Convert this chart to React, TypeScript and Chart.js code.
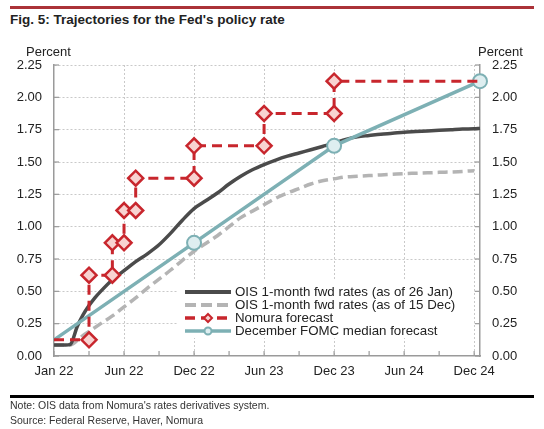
import React, { useEffect, useRef } from "react";
import { Chart, registerables } from "chart.js";

Chart.register(...registerables);

// ---- Axis ticks ----
const majorTickPositions = [0, 6, 12, 18, 24, 30, 36];
const majorTickLabels = ["Jan 22", "Jun 22", "Dec 22", "Jun 23", "Dec 23", "Jun 24", "Dec 24"];
const minorTickPositions = [3, 9, 15, 21, 27, 33];
const yTickValues = [0, 0.25, 0.5, 0.75, 1, 1.25, 1.5, 1.75, 2, 2.25];

// ---- Series (x in months since Jan 22) ----
const oisJanX = [0, 0.5, 1, 1.4, 2, 2.5, 3, 3.5, 4, 5, 6, 7, 8, 9, 10, 11, 12, 13, 14, 15, 16, 17, 18, 19, 20, 21, 22, 23, 24, 25, 26, 27, 28, 29, 30, 31, 32, 33, 34, 35, 36, 36.5];
const oisJanY = [0.085, 0.085, 0.085, 0.09, 0.23, 0.32, 0.39, 0.45, 0.5, 0.59, 0.66, 0.73, 0.79, 0.86, 0.95, 1.05, 1.14, 1.2, 1.26, 1.33, 1.39, 1.44, 1.48, 1.515, 1.545, 1.57, 1.595, 1.62, 1.645, 1.675, 1.695, 1.705, 1.715, 1.722, 1.73, 1.735, 1.74, 1.745, 1.75, 1.755, 1.757, 1.76];

const oisDecX = [0, 1, 1.4, 2, 2.5, 3, 4, 5, 6, 7, 8, 9, 10, 11, 12, 13, 14, 15, 16, 17, 18, 19, 20, 21, 22, 23, 24, 25, 26, 27, 28, 29, 30, 31, 32, 33, 34, 35, 36];
const oisDecY = [0.085, 0.085, 0.085, 0.12, 0.16, 0.19, 0.25, 0.31, 0.38, 0.45, 0.525, 0.595, 0.665, 0.74, 0.81, 0.87, 0.93, 1.0, 1.07, 1.12, 1.17, 1.22, 1.26, 1.295, 1.33, 1.355, 1.37, 1.385, 1.39, 1.395, 1.4, 1.405, 1.41, 1.413, 1.416, 1.42, 1.423, 1.427, 1.433];

const nomuraX = [0, 3, 3, 5, 5, 6, 6, 7, 7, 12, 12, 18, 18, 24, 24, 36.5];
const nomuraY = [0.125, 0.125, 0.625, 0.625, 0.875, 0.875, 1.125, 1.125, 1.375, 1.375, 1.625, 1.625, 1.875, 1.875, 2.125, 2.125];

const fomcX = [0, 12, 24, 36.5];
const fomcY = [0.125, 0.875, 1.625, 2.125];

const legendLabels = [
  "OIS 1-month fwd rates (as of 26 Jan)",
  "OIS 1-month fwd rates (as of 15 Dec)",
  "Nomura forecast",
  "December FOMC median forecast",
];

const FONT = '"Liberation Sans", Arial, Helvetica, sans-serif';
const DARK = "#4b4b4b";
const GRAY = "#b4b4b4";
const RED = "#c8262d";
const RED_FILL = "#f8d3d1";
const TEAL = "#7db0b4";
const TEAL_FILL = "#deeef0";
const AXIS = "#9a9a9a";
const GRID = "#c9c9c9";

const toPts = (xs: number[], ys: number[]) => xs.map((x, i) => ({ x, y: ys[i] }));

const innerTicksPlugin = {
  id: "innerTicks",
  beforeDatasetsDraw(chart: any) {
    const { ctx, chartArea: a, scales } = chart;
    ctx.save();
    ctx.strokeStyle = AXIS;
    ctx.lineWidth = 1.2;
    ctx.setLineDash([]);
    const seg = (x1: number, y1: number, x2: number, y2: number) => {
      ctx.beginPath();
      ctx.moveTo(x1, y1);
      ctx.lineTo(x2, y2);
      ctx.stroke();
    };
    yTickValues.forEach((v) => {
      const y = scales.y.getPixelForValue(v);
      seg(a.left, y, a.left + 5, y);
      seg(a.right - 5, y, a.right, y);
    });
    [...majorTickPositions, ...minorTickPositions].forEach((v) => {
      const x = scales.x.getPixelForValue(v);
      seg(x, a.bottom, x, a.bottom - 5);
    });
    ctx.restore();
  },
};

const legendPlugin = {
  id: "customLegend",
  beforeDatasetsDraw(chart: any) {
    const { ctx } = chart;
    ctx.save();
    ctx.fillStyle = "#ffffff";
    ctx.fillRect(178, 280, 296, 58);
    const x1 = 185;
    const x2 = 231;
    const rows = [292, 305, 318, 331];
    ctx.lineCap = "butt";
    // dark
    ctx.strokeStyle = DARK;
    ctx.lineWidth = 4;
    ctx.setLineDash([]);
    ctx.beginPath();
    ctx.moveTo(x1, rows[0]);
    ctx.lineTo(x2, rows[0]);
    ctx.stroke();
    // gray dashed
    ctx.strokeStyle = GRAY;
    ctx.setLineDash([11, 5]);
    ctx.beginPath();
    ctx.moveTo(x1, rows[1]);
    ctx.lineTo(x2 + 2, rows[1]);
    ctx.stroke();
    // red dashed + diamond
    ctx.strokeStyle = RED;
    ctx.lineWidth = 3.5;
    ctx.setLineDash([10, 6]);
    ctx.beginPath();
    ctx.moveTo(x1, rows[2]);
    ctx.lineTo(x2, rows[2]);
    ctx.stroke();
    ctx.setLineDash([]);
    const cx = (x1 + x2) / 2;
    ctx.beginPath();
    ctx.moveTo(cx, rows[2] - 4);
    ctx.lineTo(cx + 4, rows[2]);
    ctx.lineTo(cx, rows[2] + 4);
    ctx.lineTo(cx - 4, rows[2]);
    ctx.closePath();
    ctx.fillStyle = RED_FILL;
    ctx.fill();
    ctx.lineWidth = 2;
    ctx.stroke();
    // teal + circle
    ctx.strokeStyle = TEAL;
    ctx.lineWidth = 3.5;
    ctx.beginPath();
    ctx.moveTo(x1, rows[3]);
    ctx.lineTo(x2, rows[3]);
    ctx.stroke();
    ctx.beginPath();
    ctx.arc(cx, rows[3], 3.5, 0, Math.PI * 2);
    ctx.fillStyle = TEAL_FILL;
    ctx.fill();
    ctx.lineWidth = 2;
    ctx.stroke();
    // text
    ctx.fillStyle = "#222";
    ctx.font = `13.3px ${FONT}`;
    ctx.textBaseline = "middle";
    ctx.textAlign = "left";
    legendLabels.forEach((t, i) => ctx.fillText(t, 235, rows[i] + 0.5));
    ctx.restore();
  },
};

export default function App() {
  const ref = useRef<HTMLCanvasElement>(null);

  useEffect(() => {
    const tickFont = { family: FONT, size: 13 };
    const yAxisCommon = {
      min: 0,
      max: 2.25,
      afterBuildTicks: (s: any) => {
        s.ticks = yTickValues.map((v) => ({ value: v }));
      },
      ticks: {
        callback: (v: any) => Number(v).toFixed(2),
        font: tickFont,
        color: "#222",
        padding: 12,
        autoSkip: false,
      },
      border: { display: true, color: AXIS, width: 1.5, dash: [2, 2] },
    };
    const chart = new Chart(ref.current as HTMLCanvasElement, {
      type: "line",
      data: {
        datasets: [
          {
            label: legendLabels[0],
            data: toPts(oisJanX, oisJanY),
            borderColor: DARK,
            borderWidth: 3.5,
            pointRadius: 0,
            cubicInterpolationMode: "monotone",
            fill: false,
            order: 2,
            clip: false,
          },
          {
            label: legendLabels[1],
            data: toPts(oisDecX, oisDecY),
            borderColor: GRAY,
            borderWidth: 3.5,
            borderDash: [10, 5],
            pointRadius: 0,
            cubicInterpolationMode: "monotone",
            fill: false,
            order: 3,
            clip: false,
          },
          {
            label: legendLabels[2],
            data: toPts(nomuraX, nomuraY),
            borderColor: RED,
            borderWidth: 3,
            borderDash: [10, 6],
            tension: 0,
            pointStyle: "rectRot",
            pointRadius: (c: any) =>
              c.dataIndex === 0 || c.dataIndex === nomuraX.length - 1 ? 0 : 7.5,
            pointBackgroundColor: RED_FILL,
            pointBorderColor: RED,
            pointBorderWidth: 2.5,
            fill: false,
            order: 0,
            clip: false,
          },
          {
            label: legendLabels[3],
            data: toPts(fomcX, fomcY),
            borderColor: TEAL,
            borderWidth: 3.5,
            tension: 0,
            pointStyle: "circle",
            pointRadius: (c: any) => (c.dataIndex === 0 ? 0 : 7),
            pointBackgroundColor: TEAL_FILL,
            pointBorderColor: TEAL,
            pointBorderWidth: 2,
            fill: false,
            order: 1,
            clip: false,
          },
        ],
      },
      options: {
        animation: false,
        responsive: false,
        maintainAspectRatio: false,
        devicePixelRatio: 1,
        layout: { padding: { top: 65, left: 0, right: 0, bottom: 0 } },
        plugins: {
          legend: { display: false },
          tooltip: { enabled: false },
          title: { display: false },
        },
        scales: {
          x: {
            type: "linear",
            min: 0,
            max: 36.5,
            afterBuildTicks: (s: any) => {
              s.ticks = [...majorTickPositions, ...minorTickPositions]
                .sort((a, b) => a - b)
                .map((v) => ({ value: v }));
            },
            afterFit: (s: any) => {
              s.height = 73;
            },
            ticks: {
              callback: (v: any) => {
                const i = majorTickPositions.indexOf(Number(v));
                return i >= 0 ? majorTickLabels[i] : "";
              },
              font: tickFont,
              color: "#222",
              padding: 8,
              autoSkip: false,
              maxRotation: 0,
              minRotation: 0,
            },
            grid: {
              drawTicks: false,
              lineWidth: 1,
              color: (c: any) =>
                c.tick && c.tick.value > 0 && majorTickPositions.includes(c.tick.value)
                  ? GRID
                  : "rgba(0,0,0,0)",
            },
            border: { display: true, color: AXIS, width: 1.5, dash: [2, 2] },
          },
          y: {
            ...yAxisCommon,
            position: "left",
            afterFit: (s: any) => {
              s.width = 54;
            },
            grid: {
              drawTicks: false,
              lineWidth: 1,
              color: (c: any) => (c.tick && c.tick.value > 0 ? GRID : "rgba(0,0,0,0)"),
            },
          },
          y2: {
            ...yAxisCommon,
            position: "right",
            afterFit: (s: any) => {
              s.width = 64;
            },
            grid: { display: false, drawTicks: false },
          },
        },
      } as any,
      plugins: [legendPlugin, innerTicksPlugin],
    });
    return () => chart.destroy();
  }, []);

  const abs: React.CSSProperties = { position: "absolute", whiteSpace: "nowrap" };

  return (
    <div
      style={{
        position: "absolute",
        left: 0,
        top: 0,
        width: 544,
        height: 429,
        background: "#fff",
        fontFamily: FONT,
        overflow: "hidden",
      }}
    >
      <div style={{ ...abs, left: 10, top: 6, width: 524, height: 2.5, background: "#ab3238" }} />
      <div
        style={{
          ...abs,
          left: 10,
          top: 12,
          fontSize: 13.5,
          lineHeight: "16px",
          fontWeight: "bold",
          color: "#222",
        }}
      >
        Fig. 5: Trajectories for the Fed's policy rate
      </div>
      <canvas
        ref={ref}
        width={544}
        height={429}
        style={{ position: "absolute", left: 0, top: 0, width: 544, height: 429 }}
      />
      <div style={{ ...abs, left: 26, top: 44, fontSize: 13, lineHeight: "15px", color: "#222" }}>Percent</div>
      <div style={{ ...abs, left: 478, top: 44, fontSize: 13, lineHeight: "15px", color: "#222" }}>Percent</div>
      <div style={{ ...abs, left: 10, top: 395, width: 524, height: 2.5, background: "#000" }} />
      <div style={{ ...abs, left: 10, top: 399, fontSize: 10.5, lineHeight: "13px", color: "#333" }}>
        Note: OIS data from Nomura's rates derivatives system.
      </div>
      <div style={{ ...abs, left: 10, top: 414, fontSize: 10.5, lineHeight: "13px", color: "#333" }}>
        Source: Federal Reserve, Haver, Nomura
      </div>
    </div>
  );
}
